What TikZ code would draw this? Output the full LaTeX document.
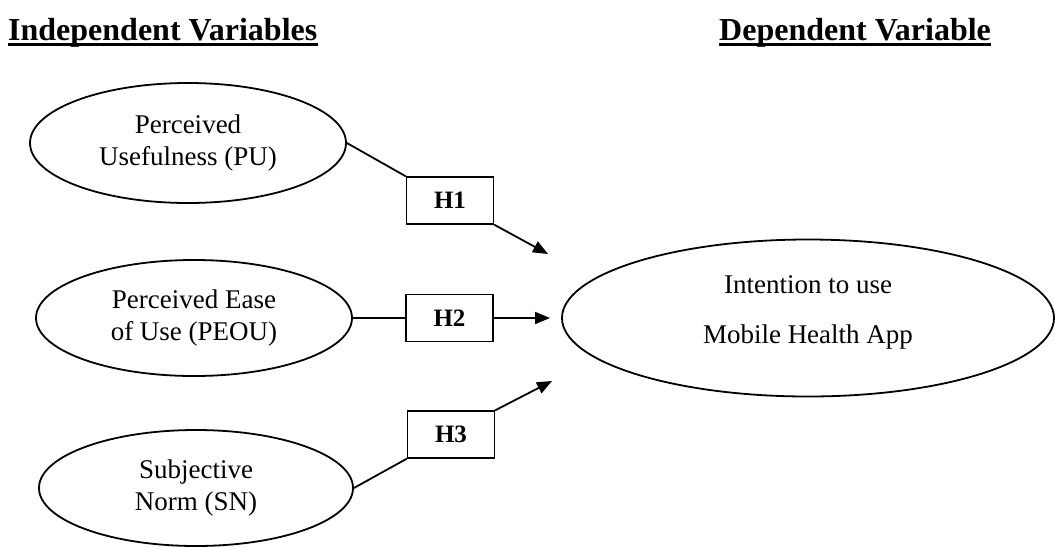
\documentclass[tikz,border=0pt]{standalone}
\usepackage{fontspec}
\setmainfont{Liberation Serif}
\usetikzlibrary{shapes.geometric,arrows.meta}
\begin{document}
\begin{tikzpicture}[x=1pt,y=-1pt,
  construct/.style={ellipse, draw, line width=1.8pt, inner sep=0pt, align=center,
    font=\fontsize{27}{32}\selectfont},
  hyp/.style={draw, line width=1.3pt, minimum width=87pt, minimum height=47pt,
    inner sep=0pt, font=\fontsize{25}{30}\selectfont\bfseries},
  link/.style={line width=1.8pt},
  arr/.style={line width=1.8pt, -{Triangle[length=15pt,width=12pt]}},
  header/.style={inner sep=0pt, anchor=base west, font=\fontsize{32}{38}\selectfont\bfseries},
  underl/.style={line width=3pt}
]
\useasboundingbox (0,0) rectangle (1055,547);

% headers
\node[header] (hi) at (8,40) {Independent Variables};
\node[header] (hd) at (719,40) {Dependent Variable};
\draw[underl] ([yshift=-4.5pt]hi.base west) -- ([yshift=-4.5pt]hi.base east);
\draw[underl] ([yshift=-4.5pt]hd.base west) -- ([yshift=-4.5pt]hd.base east);

% constructs
\node[construct, minimum width=316pt, minimum height=120pt] (pu) at (188,143)
  {Perceived\\Usefulness (PU)};
\node[construct, minimum width=316pt, minimum height=116pt] (peou) at (194,318)
  {Perceived Ease\\of Use (PEOU)};
\node[construct, minimum width=314pt, minimum height=116pt] (sn) at (196,488)
  {Subjective\\Norm (SN)};
\node[construct, minimum width=492pt, minimum height=157pt, text depth=17pt] (iu) at (808,318)
  {Intention to use\\[18pt]Mobile Health App};

% hypotheses
\node[hyp] (h1) at (450,200.5) {H1};
\node[hyp] (h2) at (449.5,318) {H2};
\node[hyp] (h3) at (451,434.5) {H3};

% arrow tips
\coordinate (t1) at (548,254);
\coordinate (t2) at (550,318);
\coordinate (t3) at (552,381);

\draw[link] (pu.east) -- (h1.north west);
\draw[arr] (h1.south east) -- (t1);
\draw[link] (peou.east) -- (h2.west);
\draw[arr] (h2.east) -- (t2);
\draw[link] (sn.east) -- (h3.south west);
\draw[arr] (h3.north east) -- (t3);
\end{tikzpicture}
\end{document}
